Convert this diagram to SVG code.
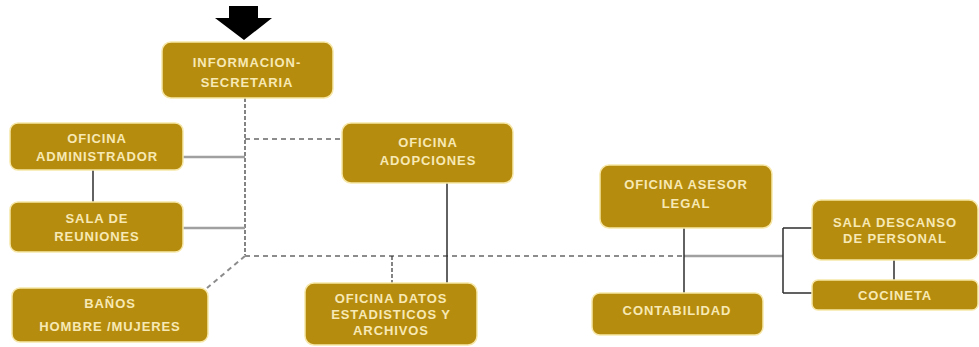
<svg xmlns="http://www.w3.org/2000/svg" width="979" height="347" viewBox="0 0 979 347">
<style>
.box{fill:#B68C0F;stroke:#F6E7A8;stroke-width:1.5}
.t{font-family:"Liberation Sans",Arial,sans-serif;font-weight:bold;font-size:13px;fill:#F7E9B5;text-anchor:middle;letter-spacing:0.9px}
.solid{stroke:#2E2E2E;stroke-width:1.5;fill:none}
.gray{stroke:#A0A0A0;stroke-width:2.5;fill:none}
.dash{stroke:#8C8C8C;stroke-width:2;stroke-dasharray:5,4;fill:none}
.vdash{stroke:#333;stroke-width:1.2;stroke-dasharray:4,2;fill:none}
</style>
<rect width="979" height="347" fill="#fff"/>
<g id="connectors">
<polygon points="229,6 258,6 258,18 272,18 244,40 215,18 229,18" fill="#000"/>
<path class="vdash" d="M245,98 V255"/>
<path class="dash" d="M245,139 H342"/>
<path class="gray" d="M183,157 H245"/>
<path class="gray" d="M183,228 H245"/>
<path class="solid" d="M93,170 V202"/>
<path class="dash" d="M245,256 H684"/>
<path class="gray" d="M684,256 H783"/>
<path class="dash" d="M245,256 L207,288"/>
<path class="vdash" d="M392,256 V283"/>
<path class="solid" d="M447,183 V283"/>
<path class="solid" d="M684,228 V293"/>
<path class="solid" d="M783,228 V293 M783,228 H812 M783,293 H812"/>
<path class="solid" d="M894,260 V280"/>
</g>
<g id="informacion"><rect class="box" x="162" y="42" width="171" height="56" rx="9"/><text class="t" x="247" y="67">INFORMACION-</text><text class="t" x="247" y="87">SECRETARIA</text></g>
<g id="administrador"><rect class="box" x="10" y="123" width="173" height="47" rx="8"/><text class="t" x="97" y="143">OFICINA</text><text class="t" x="97" y="161">ADMINISTRADOR</text></g>
<g id="reuniones"><rect class="box" x="10" y="202" width="173" height="50" rx="8"/><text class="t" x="97" y="223">SALA DE</text><text class="t" x="97" y="241">REUNIONES</text></g>
<g id="banos"><rect class="box" x="12" y="288" width="196" height="54" rx="8"/><text class="t" x="110" y="308">BAÑOS</text><text class="t" x="110" y="331">HOMBRE /MUJERES</text></g>
<g id="adopciones"><rect class="box" x="342" y="123" width="171" height="60" rx="9"/><text class="t" x="428" y="147">OFICINA</text><text class="t" x="428" y="165">ADOPCIONES</text></g>
<g id="datos"><rect class="box" x="305" y="283" width="172" height="62" rx="9"/><text class="t" x="391" y="303">OFICINA DATOS</text><text class="t" x="391" y="319">ESTADISTICOS Y</text><text class="t" x="391" y="335">ARCHIVOS</text></g>
<g id="asesor"><rect class="box" x="600" y="165" width="172" height="63" rx="9"/><text class="t" x="686" y="189">OFICINA ASESOR</text><text class="t" x="686" y="208">LEGAL</text></g>
<g id="contabilidad"><rect class="box" x="592" y="293" width="171" height="42" rx="8"/><text class="t" x="677" y="315">CONTABILIDAD</text></g>
<g id="descanso"><rect class="box" x="812" y="200" width="166" height="60" rx="9"/><text class="t" x="895" y="227">SALA DESCANSO</text><text class="t" x="895" y="243">DE PERSONAL</text></g>
<g id="cocineta"><rect class="box" x="812" y="280" width="166" height="30" rx="6"/><text class="t" x="895" y="300">COCINETA</text></g>
</svg>
